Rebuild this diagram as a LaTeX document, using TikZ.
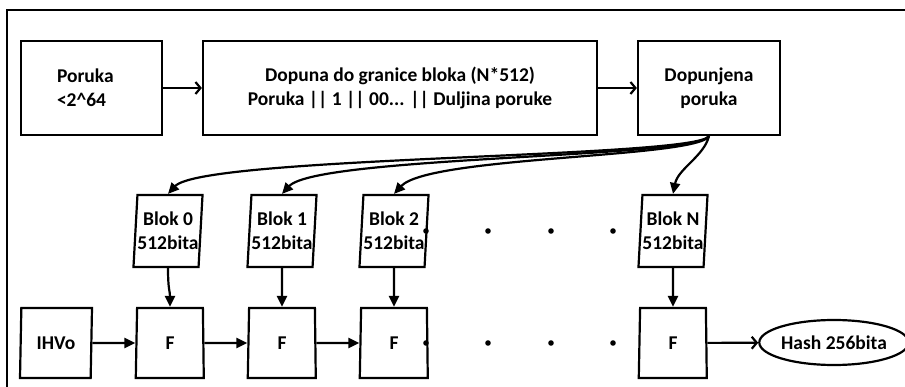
\documentclass[tikz,border=0pt]{standalone}
\usepackage{fontspec}
\setmainfont{Carlito}
\usetikzlibrary{shapes.geometric,arrows.meta}

\tikzset{
  every node/.style={font=\bfseries\fontsize{19.5}{24}\selectfont},
  box/.style={draw, line width=2.2pt, minimum height=94pt, inner sep=0pt, align=center},
  blok/.style={draw, line width=2.2pt, trapezium, trapezium left angle=84,
    trapezium right angle=96, trapezium stretches body,
    minimum width=64pt, minimum height=72pt, inner sep=0pt, align=center},
  func/.style={draw, line width=2.2pt, trapezium, trapezium left angle=84,
    trapezium right angle=86, trapezium stretches body,
    minimum width=68pt, minimum height=70pt, inner sep=0pt},
  flow/.style={line width=2.2pt, -{Triangle[length=11pt,width=10pt]}},
  feed/.style={line width=2.2pt, -{Straight Barb[length=5pt,width=12pt]}},
}

\begin{document}
\begin{tikzpicture}[x=1pt, y=-1pt]
  \useasboundingbox (0,0) rectangle (905,387);
  \draw[line width=1.5pt] (7,387) -- (7,10) -- (905,10);

  % top row
  \node[box, text width=69pt, inner xsep=36pt, align=left] (msg) at (91.5,88) {Poruka\\<2\textasciicircum64};
  \node[box, minimum width=394pt] (pad) at (400,88)
    {Dopuna do granice bloka (N*512)\\Poruka || 1 || 00... || Duljina poruke};
  \node[box, minimum width=142pt] (padded) at (709,88) {Dopunjena\\poruka};
  \draw[feed] (msg) -- (pad);
  \draw[feed] (pad) -- (padded);

  % blocks
  \node[blok] (b0) at (168,231) {Blok 0\\512bita};
  \node[blok] (b1) at (282,231) {Blok 1\\512bita};
  \node[blok] (b2) at (394,231) {Blok 2\\512bita};
  \node[blok] (bN) at (673,231) {Blok N\\512bita};
  \foreach \b in {b0,b1,b2}
    \draw[flow] (padded.south) .. controls +(-12,22) and +(35,-38) .. (\b.north);
  \draw[flow] (padded.south) .. controls +(-5,20) and +(5,-25) .. (bN.north);

  % compression chain
  \node[blok, minimum width=72pt, minimum height=70pt] (iv) at (56,343) {IHVo};
  \node[func] (f0) at (170,343) {F};
  \node[func] (f1) at (282,343) {F};
  \node[func] (f2) at (394,343) {F};
  \node[func] (fN) at (673,343) {F};
  \node[draw, ellipse, line width=2.2pt, minimum width=138pt, minimum height=45pt, inner sep=0pt]
    (hash) at (834,342.5) {Hash 256bita};

  \foreach \b/\f in {b0/f0,b1/f1,b2/f2,bN/fN}
    \draw[flow] (\b.south) .. controls +(0,22) and +(0,-16) .. (\f.north);
  \draw[flow] (iv) -- (f0);
  \draw[flow] (f0) -- (f1);
  \draw[flow] (f1) -- (f2);
  \draw[feed] (fN) -- (hash);

  \foreach \x in {426,488,551,613}
    \foreach \y in {231,343}
      \fill (\x,\y) circle (2.8pt);
\end{tikzpicture}
\end{document}
